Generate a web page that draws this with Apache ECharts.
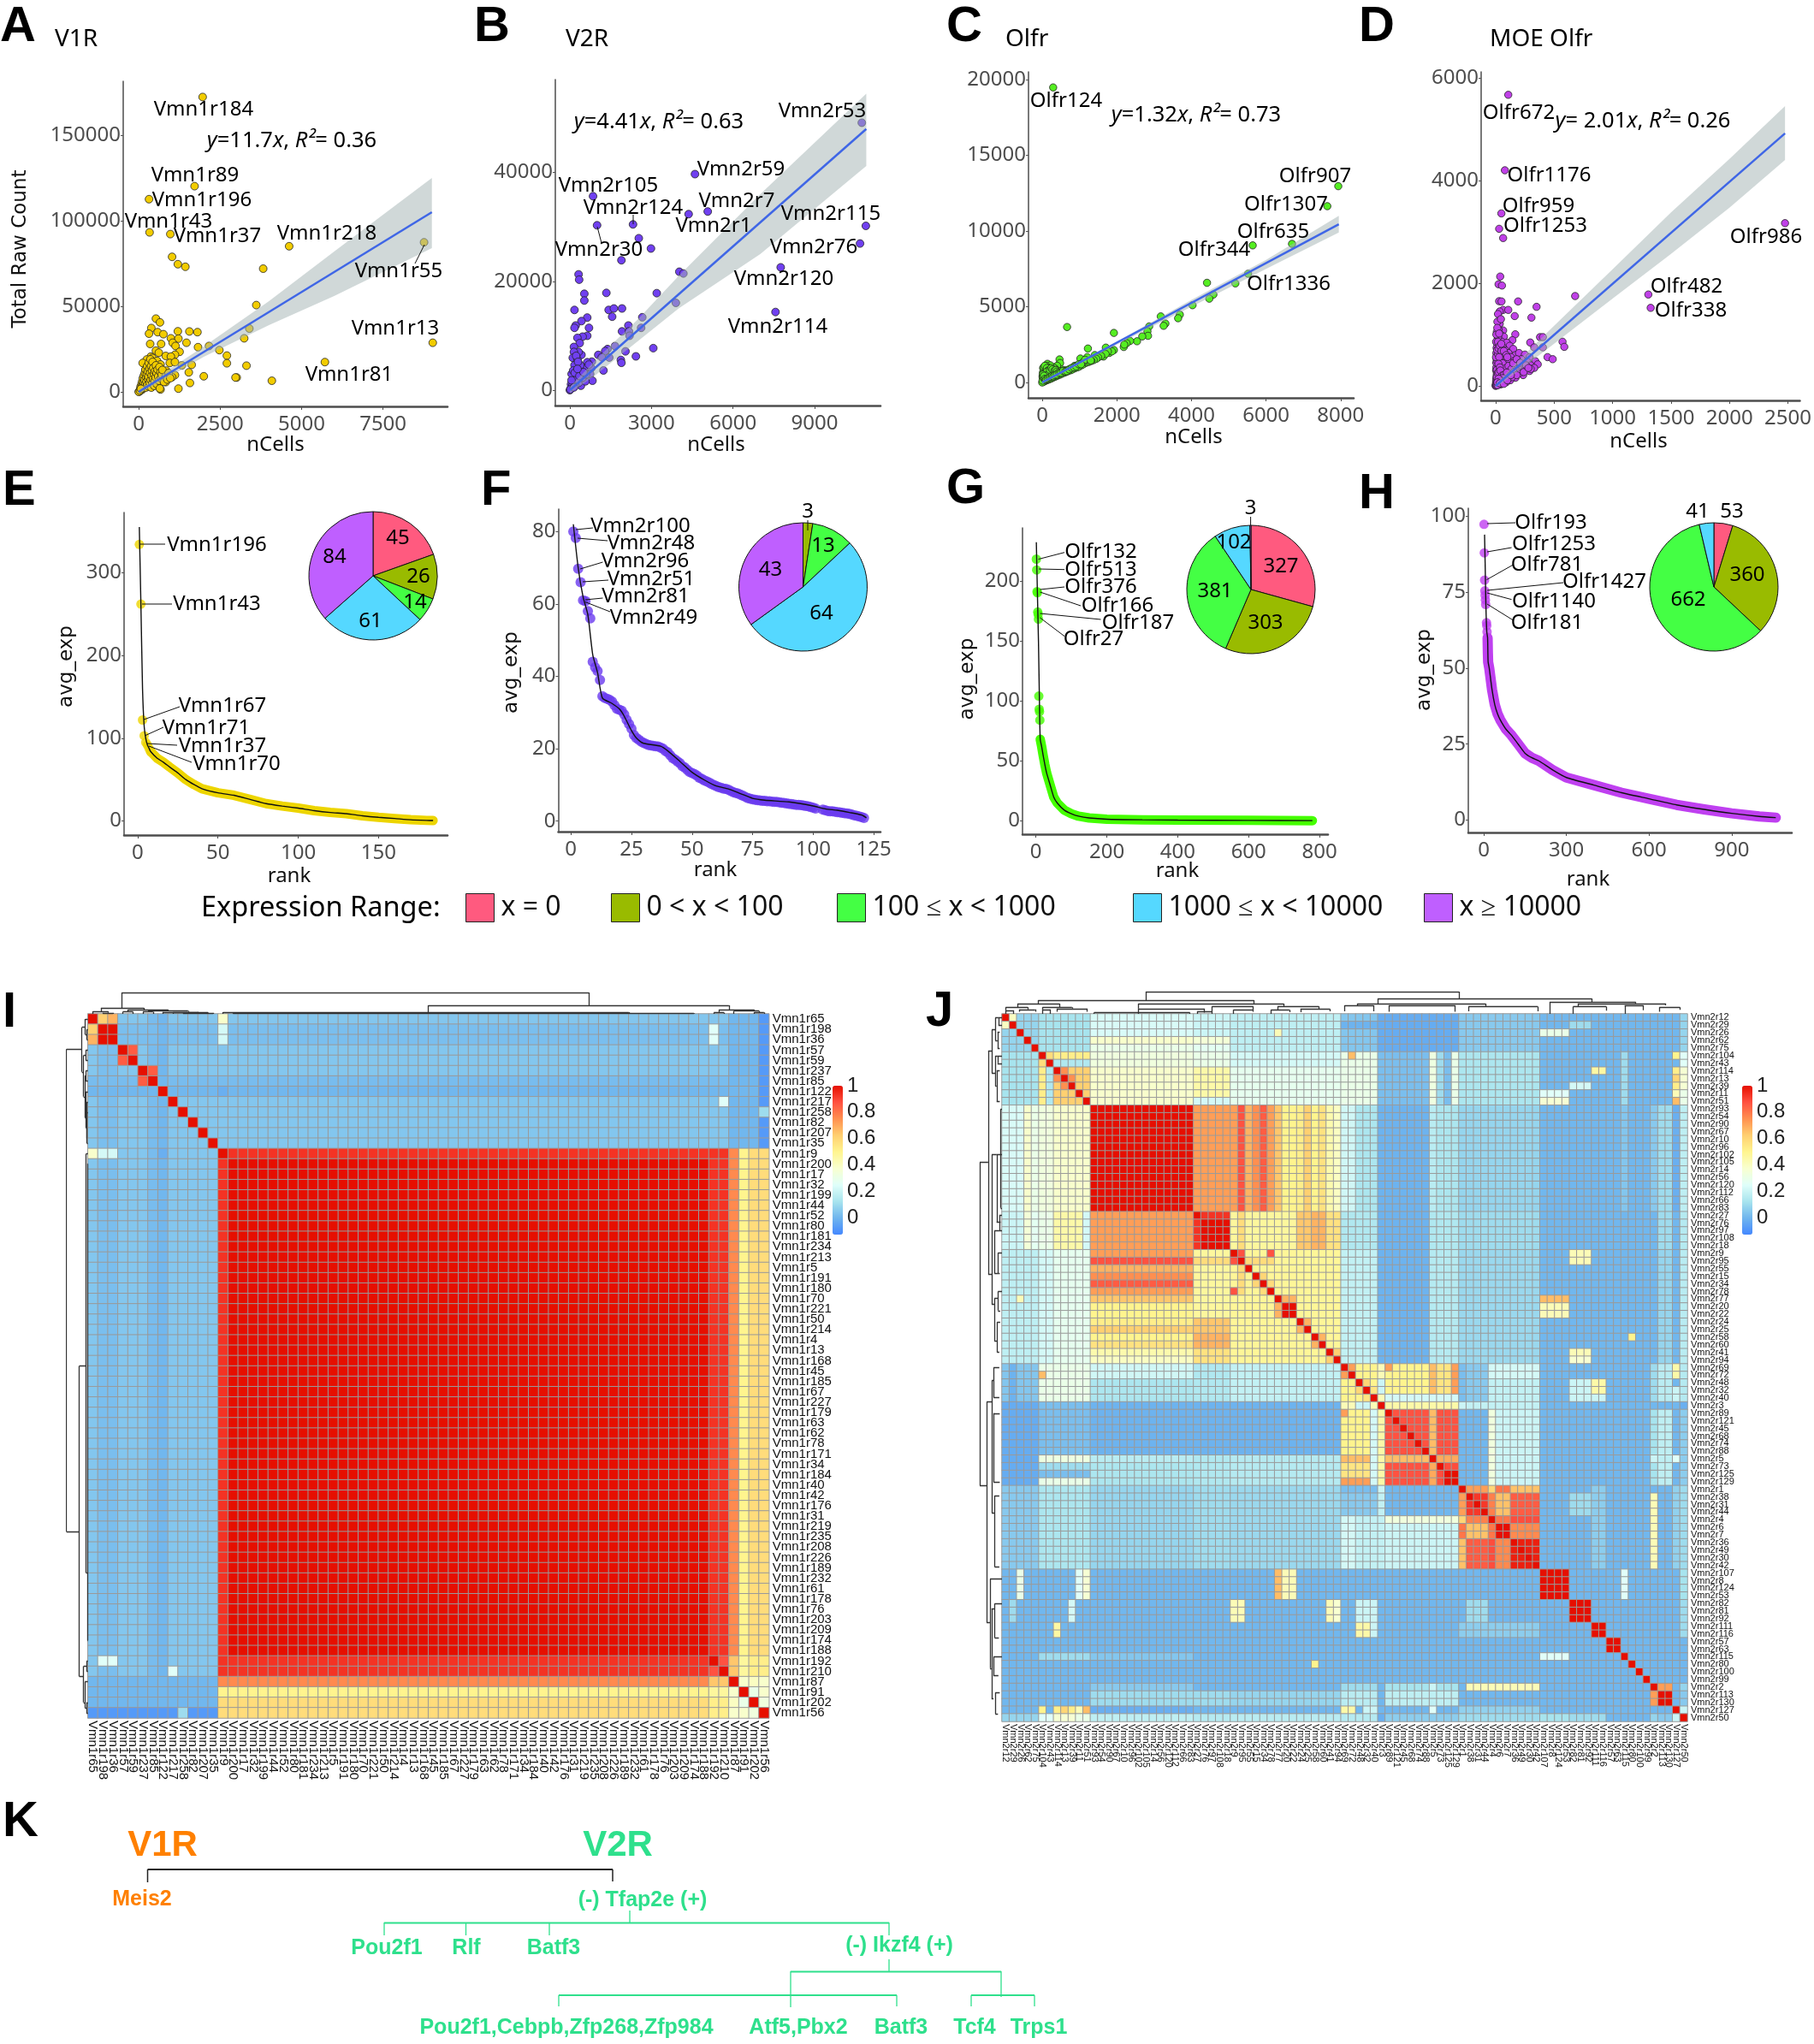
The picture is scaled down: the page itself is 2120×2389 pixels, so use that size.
<!DOCTYPE html>
<html><head><meta charset="utf-8"><style>html,body{margin:0;background:#fff}#c{width:2120px;height:2389px}</style>
<script src="https://cdn.jsdelivr.net/npm/echarts@6/dist/echarts.min.js"></script></head><body><div id="c"></div>
<script>
// ---------- DATA ----------
const pointsA=[[1965,172300],[1717,120200],[319,112600],[336,93200],[973,92200],[1027,78900],[1204,74600],[1434,73100],[3823,72000],[4620,85100],[8760,87400],[3611,50700],[3398,37000],[3239,31300],[9027,28700],[5717,17400],[4089,6500],[2478,24400],[2160,26800],[2708,21200],[2708,16700],[3310,15300],[3010,8400],[2974,8400],[2000,9100],[1575,5200],[1221,1900],[672,1400],[531,42800],[655,40600],[390,37300],[319,34000],[584,34900],[761,33700],[1204,35400],[1558,35300],[1805,34900],[991,31300],[1221,31100],[1044,28700],[1469,28700],[690,28000],[354,28000],[1133,26800],[1823,26100],[531,24100],[1257,23400],[620,22900],[1115,21700],[832,21000],[991,20600],[372,20600],[248,18900],[425,19800],[124,16900],[566,18100],[673,16000],[956,16900],[1115,17400],[1327,15500],[1628,15800],[1540,11400],[407,15000],[212,12900],[442,12900],[850,12400],[1115,9800],[1027,8600],[602,10700],[832,5700],[30,500],[50,1500],[60,3000],[80,2200],[90,4500],[100,1200],[110,6000],[120,3500],[130,8000],[140,2000],[150,5500],[160,9500],[170,3000],[180,7000],[190,11000],[200,4500],[210,13000],[220,2500],[230,8500],[240,6000],[250,10500],[260,15000],[270,4000],[280,12000],[290,7500],[300,9000],[310,17000],[320,3000],[330,13500],[340,5500],[350,11000],[360,19000],[370,7000],[380,15000],[390,2500],[400,9500],[410,12500],[420,5000],[430,17500],[440,7500],[450,14000],[470,10500],[480,3500],[490,6500],[500,12000],[520,8500],[530,15500],[550,11000],[560,4500],[580,13000],[600,9000],[620,6500],[640,14500],[650,2000],[670,11500],[690,8000],[710,10000],[730,12800],[780,5800],[830,9000],[880,7200],[920,11000],[970,8000],[20,300],[10,100],[5,50],[40,800],[70,1800]];
const pointsB=[[10735,49140],[4600,39700],[852,35640],[4367,32350],[5070,32830],[10884,30190],[1000,30300],[2322,30460],[10670,26950],[2535,27920],[2982,26030],[1896,23870],[7753,22570],[4026,21760],[4175,21440],[320,21280],[341,20300],[1342,17870],[3195,17820],[532,17710],[532,16470],[3898,16040],[7562,14360],[1917,15010],[1427,14740],[1619,15010],[170,14740],[1555,13500],[639,13340],[426,12690],[2663,13390],[213,11880],[170,11450],[703,11450],[2151,11880],[2620,11450],[1917,10800],[2173,10800],[2194,9990],[639,9990],[469,9830],[277,9610],[362,8640],[149,7940],[3067,7720],[1661,8100],[1385,7560],[1299,7180],[2045,7130],[1044,6480],[1172,6050],[1448,5990],[2428,6210],[1874,5560],[1896,5020],[1235,3620],[809,5240],[639,5130],[426,6480],[320,7020],[149,7020],[107,5940],[277,5670],[575,4050],[788,4050],[746,2970],[831,1730],[405,810],[107,1890],[213,2430],[383,3510],[64,2970],[43,1080],[0,0],[149,1350],[320,1350],[575,1620],[170,4590],[383,4590],[40,400],[90,800],[200,900],[250,2000],[470,2300],[600,2900],[230,6300],[300,5200],[700,4700],[120,3600],[60,1800],[180,3200],[350,2600],[500,3300],[20,150],[150,500],[280,3900]];
const pointsC=[[294,19480],[7936,12960],[7642,11640],[5642,9050],[6696,9150],[5518,7180],[4418,6580],[5177,6540],[4588,5800],[4480,5530],[4030,5100],[3178,4360],[3689,4480],[3643,4240],[3302,3890],[3255,3740],[667,3660],[1922,3270],[2868,3700],[2821,3370],[2837,3080],[2682,3040],[2542,2720],[2356,2740],[2263,2590],[2186,2340],[1225,2240],[1705,2300],[1922,2140],[1798,1950],[1643,1710],[1410,1810],[1209,1670],[1023,1580],[465,1520],[480,1280],[140,1230],[60,1030],[190,1050],[2200,2500],[1870,2050],[1760,2050],[1700,1880],[1580,1750],[1500,1650],[1450,1560],[1380,1480],[1320,1420],[1250,1350],[1180,1300],[1120,1230],[1070,1150],[1000,1060],[950,1000],[880,940],[820,870],[770,810],[700,750],[640,690],[590,640],[530,580],[480,520],[430,470],[380,420],[340,370],[290,320],[250,270],[210,230],[170,190],[130,150],[90,110],[50,60],[20,30],[0,0],[1080,1300],[1150,1500],[870,1100],[520,850],[600,800],[680,820],[450,800],[400,1100],[350,900],[300,1000],[260,800],[220,1130],[180,900],[150,1000],[120,820],[100,1100],[80,900],[60,700],[40,850],[30,500],[20,650],[15,300],[70,420],[110,560],[150,620],[200,580],[240,660],[280,700],[320,600],[90,300],[130,380],[170,420],[40,200],[10,120],[55,250],[230,480],[310,500],[370,640],[420,620],[480,750],[540,700],[750,900],[930,1120],[1300,1450],[25,950],[45,1000],[70,1100],[95,780],[125,950],[160,800],[195,720],[35,600],[65,540],[85,620],[115,700],[140,480],[180,540],[205,840],[245,950],[275,860],[330,780],[365,820],[395,720],[440,660],[10,400],[18,520],[28,380],[48,440],[75,250],[105,200],[145,260],[185,330],[225,370],[265,430],[300,410],[345,480],[395,520],[460,610],[500,640],[560,760],[620,720],[660,750],[725,860],[790,960],[850,1000],[910,1060],[980,1200],[1040,1200]];
const pointsD=[[108,5670],[79,4200],[49,3360],[30,3060],[64,2880],[2475,3170],[1306,1780],[1326,1520],[680,1750],[39,2130],[25,1980],[54,1955],[30,1650],[50,1645],[192,1645],[350,1540],[64,1480],[108,1480],[35,1450],[163,1360],[306,1330],[35,1210],[64,1080],[168,1005],[380,950],[404,950],[143,890],[296,845],[572,860],[587,760],[330,750],[404,750],[444,560],[488,520],[20,1400],[15,1250],[45,1300],[25,1100],[10,1050],[42,1000],[70,960],[18,930],[33,880],[52,860],[12,820],[28,780],[95,840],[120,780],[8,740],[40,720],[65,740],[22,680],[85,690],[150,720],[6,640],[35,620],[55,620],[110,640],[170,600],[200,640],[15,580],[45,540],[75,580],[130,560],[250,610],[8,520],[28,490],[60,500],[95,500],[160,490],[220,520],[290,560],[12,440],[40,430],[75,440],[115,450],[185,420],[270,470],[340,480],[20,390],[50,370],[90,380],[140,380],[210,370],[300,400],[360,420],[6,360],[32,320],[65,320],[105,320],[165,330],[250,320],[330,350],[15,280],[45,270],[80,270],[125,270],[190,280],[290,290],[10,230],[30,220],[60,220],[100,220],[150,220],[235,210],[300,330],[8,180],[22,170],[45,170],[75,170],[115,170],[170,160],[5,130],[15,120],[32,120],[55,120],[85,120],[125,110],[4,80],[12,80],[22,75],[38,80],[60,75],[90,70],[3,40],[8,40],[15,35],[28,35],[45,30],[0,0],[2,15],[5,10],[10,15],[18,12],[30,60],[50,50],[4,300],[10,310],[5,450],[16,470],[3,560],[20,620],[12,700],[25,730],[4,860],[22,960],[6,1000],[14,1130],[30,1020],[20,860],[35,780],[50,680],[70,680],[90,600],[100,560],[48,820],[30,560],[60,440],[80,340],[110,390],[135,330],[155,270],[200,240],[240,270],[24,430],[36,360],[10,170],[18,250],[26,270],[40,300],[55,200],[70,210],[95,260],[105,150],[140,170],[180,210],[60,150],[80,100],[40,110],[25,140],[15,70],[35,50],[70,40],[100,110],[130,210],[150,440],[180,520],[210,450],[260,400],[280,350]];
const fitA=[[0,0],[9000,105000]], bandA=[[0,-1200,1200],[1000,9500,14000],[2000,20500,26500],[4000,39000,53000],[6000,56000,82000],[9000,84000,125000]];
const fitB=[[0,0],[10900,48000]], bandB=[[0,-600,600],[1000,3000,5800],[2500,9000,13000],[4000,15000,21000],[7000,25000,36000],[10900,41200,54500]];
const fitC=[[0,0],[7950,10450]], bandC=[[0,-100,100],[2000,2500,2700],[4000,5000,5450],[6000,7500,8100],[7950,9900,11000]];
const fitD=[[0,0],[2475,4920]], bandD=[[0,-40,40],[300,470,730],[500,820,1170],[1000,1700,2270],[1500,2570,3380],[2000,3470,4420],[2475,4400,5450]];

const dotsE=[[1,334],[2,262],[3,122],[4,103],[5,95],[6,92],[7,88],[8,84]];
const bandE=[[8,84],[12,76],[16,71],[20,65],[25,58],[30,50],[35,44],[40,39],[50,34],[60,31],[70,26],[80,21],[90,18],[100,15.5],[110,12.5],[120,10.3],[130,8.9],[140,6.3],[150,4.4],[160,3],[170,1.5],[180,0.7],[184,0.5]];
const fitHeadE=[[1,355],[2,260],[3,160],[4,115],[5,100],[6,92],[7,88]];
const ranksF=[80,78.2,69.7,66,61,60.8,58,56,44,42.5,41.5,39,34.5,34,33.8,33.5,33,32,31,30.8,30.5,29.5,28,26.8,25.5,23.8,23,22.5,22,21.6,21.3,21,20.9,20.8,20.7,20.6,20.3,20,19.4,19,18.2,17.4,17,16.5,16,15.2,14.8,14.2,13.6,13.3,13,12.6,12,11.7,11.3,11,10.7,10.3,10,9.7,9.4,9.2,9,8.9,8.7,8.3,8,7.8,7.6,7.3,7,6.7,6.4,6.2,6,5.9,5.8,5.7,5.6,5.6,5.5,5.5,5.4,5.3,5.3,5.2,5.1,5,4.9,4.8,4.7,4.6,4.5,4.5,4.4,4.3,4.2,4.1,3.9,3.7,3.5,3.2,3,2.8,2.7,2.7,2.6,2.5,2.4,2.3,2.2,2.1,2,1.8,1.6,1.5,1.3,1.1,0.9];
const dotsF=ranksF.map((v,i)=>[i+1+(i>100?2:0),v]);
const fitF=[[1,82],[3,70],[5,62],[7,57],[9,46],[11,41],[13,34],[17,32.5],[20,31],[22,29],[25,25],[27,23],[30,21.5],[37,20.7],[40,19.4],[45,16.5],[50,13.5],[55,11.4],[60,9.7],[65,8.9],[70,7.6],[75,6.3],[80,5.8],[90,5.3],[100,4.2],[105,3.4],[110,3],[115,2.4],[120,1.7],[122,0.9]];
const dotsG=[[1,218],[2,209],[3,191],[4,190],[5,174],[6,172],[7,168],[8,104],[9,93],[10,91],[11,84]];
const bandG=[[12,68],[16,62],[20,55],[25,47],[30,40],[40,30],[50,20],[60,15],[80,9],[100,6],[120,4],[150,2.5],[200,1.5],[300,1],[400,0.7],[600,0.5],[780,0.3]];
const fitHeadG=[[1,232],[4,190],[7,150],[10,95]];
const dotsH=[[1,97.4],[2,88],[3,79],[4,75.5],[5,74],[6,72.5],[7,71],[10,65],[11,64],[12,62]];
const bandH=[[14,60],[15,55],[16,52],[20,50],[30,43],[40,38],[50,35],[60,33],[80,30],[100,28],[125,25],[150,22],[175,20.5],[200,19.5],[250,16.5],[300,14],[400,11.5],[500,9],[600,7],[700,5],[800,3.5],[900,2.2],[1000,1.2],[1060,0.8]];
const fitHeadH=[[3,94],[5,85],[8,70],[11,62]];

const rangeNames=['x = 0','0 < x < 100','100 ≤ x < 1000','1000 ≤ x < 10000','x ≥ 10000'];
const pieE=[45,26,14,61,84], pieF=[0,3,13,64,43], pieG=[327,303,381,102,3], pieH=[53,360,662,41,0];

const labelsI=[65,198,36,57,59,237,85,122,217,258,82,207,35,9,200,17,32,199,44,52,80,181,234,213,5,191,180,70,221,50,214,4,13,168,45,185,67,227,179,63,62,78,171,34,184,40,42,176,31,219,235,208,226,189,232,61,178,76,203,209,174,188,192,210,87,91,202,56].map(n=>'Vmn1r'+n);
const labelsJ=[12,29,26,62,75,104,43,114,13,39,11,51,93,54,90,67,10,96,102,105,14,56,120,112,66,83,27,76,97,108,18,9,95,55,15,34,78,77,20,22,24,25,58,60,41,94,69,72,48,32,40,3,89,121,45,68,74,88,5,73,125,129,1,38,31,44,4,6,7,36,49,30,42,107,8,124,53,82,81,92,111,116,57,63,115,80,100,99,2,113,130,127,50].map(n=>'Vmn2r'+n);
// blocks: [rowFrom,rowTo,colFrom,colTo,value], mirrored across the diagonal, later ones win
const blocksI=[[0,67,0,67,0.04],[0,67,1,2,0.02],[0,67,6,7,0.015],[7,7,0,67,0.0],[0,12,64,66,0.0],[0,12,67,67,-0.08],[9,9,67,67,0.1],[0,0,1,1,0.62],[0,0,2,2,0.68],[1,2,1,2,1],[3,4,3,4,0.85],[5,6,5,6,0.85],[13,13,0,0,0.38],[13,13,1,2,0.22],[13,13,7,7,-0.02],[13,61,13,61,1],[13,13,14,63,0.93],[14,61,62,63,0.93],[62,63,62,63,0.87],[13,61,64,64,0.76],[62,63,64,64,0.64],[13,61,65,65,0.5],[62,63,65,65,0.47],[13,61,66,67,0.58],[62,63,66,67,0.52],[64,64,65,65,0.38],[64,64,66,66,0.4],[64,64,67,67,0.38],[65,65,66,66,0.3],[65,65,67,67,0.38],[66,66,67,67,0.33],[1,2,62,62,0.25],[8,8,63,63,0.25]];
const blocksJ=[[0,92,0,92,0.0],[0,4,0,4,0.08],[0,0,1,1,0.4],[5,11,0,4,0.12],[5,6,5,6,0.13],[5,5,6,6,0.58],[5,5,7,11,0.52],[6,11,6,6,0.14],[7,11,7,11,0.62],[7,7,8,8,0.75],[8,8,9,9,0.75],[0,2,12,25,0.23],[3,3,12,25,0.38],[4,4,12,25,0.3],[5,6,12,25,0.33],[7,11,12,25,0.38],[0,2,26,30,0.2],[3,3,26,30,0.35],[4,4,26,30,0.27],[5,6,26,30,0.3],[7,10,26,30,0.45],[11,11,26,30,0.22],[0,4,31,45,0.17],[2,2,37,37,0.42],[5,6,31,45,0.22],[7,11,31,45,0.28],[0,4,46,50,0.04],[1,1,46,50,-0.01],[5,11,46,50,0.3],[5,5,47,47,0.66],[0,4,51,61,-0.03],[5,11,51,61,0.02],[5,11,58,58,0.32],[5,11,59,59,0.1],[5,11,61,61,0.3],[5,11,62,72,0.13],[0,4,62,72,0.05],[2,2,73,76,0.3],[10,10,73,76,0.25],[11,11,73,76,0.36],[1,1,77,79,0.1],[9,9,77,79,0.22],[7,7,80,81,0.46],[5,11,84,84,0.1],[5,5,91,91,0.5],[7,9,91,91,0.52],[8,8,91,91,0.6],[10,10,91,91,0.42],[11,11,91,91,0.66],[0,4,92,92,0.08],[5,6,92,92,0.25],[7,9,92,92,0.36],[10,11,92,92,0.3],[12,25,12,25,1],[12,25,26,30,0.72],[12,25,31,31,0.72],[12,25,32,32,0.87],[12,25,33,33,0.68],[12,25,34,34,0.75],[12,25,35,35,0.85],[12,25,36,36,0.72],[12,25,37,37,0.64],[12,25,38,39,0.5],[12,25,40,40,0.52],[12,25,41,41,0.62],[12,25,42,42,0.5],[12,25,43,43,0.56],[12,25,44,44,0.44],[12,25,45,45,0.4],[12,25,46,47,0.21],[12,25,48,50,0.13],[12,25,51,57,-0.01],[12,25,58,58,0.16],[12,25,59,61,0.13],[12,25,62,72,0.08],[12,25,84,84,0.04],[12,25,88,88,0.05],[12,25,89,90,0.1],[12,25,91,91,-0.02],[12,25,92,92,0.17],[26,30,26,30,1],[26,26,27,30,0.93],[26,30,31,45,0.47],[26,30,32,32,0.58],[26,30,40,41,0.64],[26,30,42,43,0.68],[26,30,44,45,0.56],[26,30,46,50,0.14],[26,30,51,57,-0.01],[26,30,58,61,0.14],[26,30,62,72,0.1],[26,30,89,90,0.1],[26,30,92,92,0.15],[31,45,31,45,0.48],[31,31,32,32,0.87],[31,31,36,36,0.87],[32,32,33,36,0.58],[34,34,35,35,0.6],[35,35,36,36,0.58],[37,37,38,39,0.68],[38,39,38,39,1],[40,41,40,41,0.68],[42,43,42,43,0.68],[44,45,44,45,0.62],[31,45,46,50,0.18],[31,45,51,57,-0.01],[31,45,58,61,0.15],[31,45,62,72,0.09],[31,32,77,79,0.42],[44,44,77,79,0.42],[45,45,77,79,0.37],[37,37,73,76,0.66],[38,39,73,76,0.42],[42,42,85,85,0.5],[31,45,89,90,0.08],[31,45,92,92,0.16],[46,50,46,50,0.5],[46,46,47,47,0.72],[48,48,49,49,0.6],[49,49,50,50,0.55],[46,50,51,51,0.42],[48,49,51,51,0.2],[46,50,52,57,0.5],[46,46,52,52,0.72],[46,49,58,58,0.66],[46,49,59,60,0.55],[46,49,61,61,0.72],[50,50,52,61,0.22],[46,50,62,62,0.02],[46,50,63,65,0.05],[46,47,66,72,0.22],[48,50,66,72,0.18],[46,47,91,91,0.45],[49,50,91,91,0.2],[48,49,80,81,0.45],[50,50,80,81,0.2],[48,50,77,79,0.2],[46,50,92,92,0.15],[46,50,88,88,0.1],[46,50,89,90,0.16],[51,51,52,61,0.45],[51,51,62,62,0.2],[51,51,63,72,0.18],[51,51,92,92,-0.02],[52,57,52,57,0.87],[52,57,58,58,0.66],[52,57,59,61,0.87],[58,58,59,61,0.7],[59,61,59,61,0.88],[60,61,60,61,1],[52,61,66,66,0.33],[52,61,67,72,0.2],[52,61,88,88,0.12],[52,61,89,90,0.17],[58,58,88,88,0.2],[58,58,91,91,0.25],[58,58,92,92,0.42],[52,61,92,92,0.06],[62,62,63,65,0.72],[62,62,66,66,0.6],[62,62,67,68,0.8],[62,62,69,72,0.65],[63,65,63,65,0.92],[63,65,66,66,0.78],[63,65,67,68,0.65],[63,65,69,72,0.85],[66,66,67,68,0.8],[66,66,69,72,0.88],[67,68,67,68,1],[67,68,69,72,0.76],[69,72,69,72,0.97],[63,72,88,88,0.42],[63,65,77,79,0.1],[62,72,80,81,0.06],[62,72,91,91,0.07],[62,72,92,92,0.1],[73,76,73,76,1],[73,76,84,84,0.25],[73,76,92,92,0.12],[77,79,77,79,1],[77,79,92,92,0.1],[80,81,80,81,1],[80,81,92,92,0.1],[82,83,82,83,1],[88,88,89,90,0.72],[89,90,89,90,1],[88,88,92,92,0.08],[89,90,92,92,0.05],[91,91,92,92,0.2]];
const dendroI=[[3.4,50,1,0.28,0.4],[1.3,5.6,0.28,0.12,0.2],[0.5,2,0.12,0,0.05],[1.5,2.5,0.05,0,0],[4,8,0.2,0.1,0.14],[3.5,4.5,0.1,0,0],[6,10,0.14,0.1,0.09],[5.5,6.5,0.1,0,0],[7.5,11,0.09,0,0.07],[8.5,12,0.07,0,0.05],[9.5,12.5,0.05,0,0],[34,64,0.4,0.08,0.2],[13.5,54,0.08,0,0.03],[14.5,60.5,0.03,0,0],[63,66.5,0.2,0.06,0.14],[62.5,63.5,0.06,0,0],[64.5,67,0.14,0,0.07],[66.5,67.5,0.07,0,0]];
const dendroJ=[[19.5,62,1,0.62,0.69],[4.9,34.2,0.62,0.46,0.46],[2.1,7.8,0.46,0.3,0.3],[0.5,3.5,0.3,0.16,0.2],[0.5,1.5,0.16,0,0],[2.4,4.5,0.2,0.1,0.1],[5.5,9.5,0.3,0.2,0.24],[5.5,6.5,0.2,0,0],[7.5,11.5,0.24,0.1,0.1],[18.5,38.2,0.46,0.24,0.34],[18.5,27.4,0.24,0,0.06],[12.5,25.5,0.06,0,0],[28.5,34.1,0.34,0.12,0.18],[26.5,28.5,0.12,0,0],[31.4,34.1,0.18,0,0.1],[37.4,43,0.34,0.18,0.22],[36.5,39,0.18,0,0.08],[40.5,44.5,0.22,0.08,0.12],[51,80,0.69,0.46,0.54],[48.2,65.6,0.46,0.38,0.33],[46.5,50.4,0.38,0.12,0.12],[52.5,61.5,0.38,0.1,0.1],[63.3,72.7,0.33,0.12,0.12],[74.3,86,0.54,0,0.47],[78.2,90,0.47,0.33,0.38],[77.5,82,0.33,0,0.14],[84.5,87,0.38,0,0.16],[89.2,92,0.3,0.1,0.18]];
const legendValues=[0,0.2,0.4,0.6,0.8,1];

// ---------- PIXEL LAYOUT AND STYLE ----------
const colors=['#FF5A7F','#99BB00','#44FF44','#55D8FF','#BF5FFF'];
const heatColors=['#4488FF','#6FB5EE','#A8E4EE','#E0FFFA','#F8FFD0','#FFF58F','#FFCF70','#FF9050','#FF5040','#E60F00'];
const sans='"Noto Sans"', ar='"Liberation Sans"', wide='"DejaVu Sans"';
const tick='#4D4D4D';
const grid=[],xAxis=[],yAxis=[],series=[],graphic=[],legend=[],visualMap=[];
const plain=v=>String(v);

function addPanel(p){
  const i=grid.length;
  grid.push({left:p.l,top:p.t,width:p.r-p.l,height:p.b-p.t});
  xAxis.push({gridIndex:i,type:'value',min:p.xr[0],max:p.xr[1],splitLine:{show:false},
    axisLine:{show:true,onZero:false,lineStyle:{color:tick,width:2.5}},axisTick:{show:true,length:4,lineStyle:{color:tick},customValues:p.xt},axisLabel:{customValues:p.xt,formatter:plain,fontFamily:sans,fontSize:24,color:tick,margin:9,hideOverlap:false,showMinLabel:true,showMaxLabel:true}});
  yAxis.push({gridIndex:i,type:'value',min:p.yr[0],max:p.yr[1],splitLine:{show:false},
    axisLine:{show:true,onZero:false,lineStyle:{color:tick,width:1.5}},axisTick:{show:true,length:3,lineStyle:{color:tick},customValues:p.yt},axisLabel:{customValues:p.yt,formatter:plain,fontFamily:sans,fontSize:24,color:tick,margin:3}});
  return i;
}
function bandSeries(i,band){
  return {type:'custom',xAxisIndex:i,yAxisIndex:i,data:band,z:4,silent:true,clip:true,renderItem:(pr,api)=>{
    if(pr.dataIndex!==0) return null;
    const up=band.map(b=>api.coord([b[0],b[2]])), lo=band.map(b=>api.coord([b[0],b[1]])).reverse();
    return {type:'polygon',shape:{points:up.concat(lo)},style:{fill:'rgba(165,180,180,0.52)'}};
  }};
}
function addScatter(p,pts,col,fit,band){
  const i=addPanel(p);
  series.push({type:'scatter',xAxisIndex:i,yAxisIndex:i,data:pts,symbolSize:p.sz||9,z:3,itemStyle:{color:col,borderColor:'#222',borderWidth:0.8,opacity:1}});
  series.push(bandSeries(i,band));
  series.push({type:'line',xAxisIndex:i,yAxisIndex:i,data:fit,symbol:'none',z:5,lineStyle:{color:'#3F66E6',width:2.5}});
}
function addRank(p,dots,bandPts,fit,col,bw,ds){
  const i=addPanel(p);
  if(bandPts) series.push({type:'line',xAxisIndex:i,yAxisIndex:i,data:bandPts,symbol:'none',z:2,lineStyle:{color:col,width:bw,cap:'round',join:'round'}});
  series.push({type:'scatter',xAxisIndex:i,yAxisIndex:i,data:dots,symbolSize:ds,z:3,itemStyle:{color:col}});
  series.push({type:'line',xAxisIndex:i,yAxisIndex:i,data:fit,symbol:'none',z:5,smooth:0.2,lineStyle:{color:'#111',width:1.4}});
}
addScatter({l:144,r:523,t:95,b:475,xr:[-473,9480],yr:[-8500,181500],xt:[0,2500,5000,7500],yt:[0,50000,100000,150000]},pointsA,'#F2CC00',fitA,bandA);
addScatter({l:649,r:1029,t:93,b:474,xr:[-535,11422],yr:[-2830,57075],xt:[0,3000,6000,9000],yt:[0,20000,40000]},pointsB,'#7040F0',fitB,bandB);
addScatter({l:1202,r:1582,t:84,b:465,xr:[-367,8348],yr:[-1017,20508],xt:[0,2000,4000,6000,8000],yt:[0,5000,10000,15000,20000],sz:8.5},pointsC,'#55EE22',fitC,bandC);
addScatter({l:1731,r:2105,t:84,b:468,xr:[-124,2602],yr:[-283,6117],xt:[0,500,1000,1500,2000,2500],yt:[0,2000,4000,6000],sz:8.5},pointsD,'#C040E8',fitD,bandD);

addRank({l:145,r:523,t:599,b:976,xr:[-8.5,193],yr:[-17,372.6],xt:[0,50,100,150],yt:[0,100,200,300]},dotsE,bandE,fitHeadE.concat(bandE),'#EDD500',11,11);
addRank({l:652.5,r:1029,t:595,b:972,xr:[-5.2,127.8],yr:[-2.9,86.2],xt:[0,25,50,75,100,125],yt:[0,20,40,60,80]},dotsF,null,fitF,'#6A3BEF',0,12);
addRank({l:1195,r:1552,t:617,b:975,xr:[-38,824],yr:[-11,244],xt:[0,200,400,600,800],yt:[0,50,100,150,200]},dotsG,bandG,fitHeadG.concat(bandG),'#44FF00',11,11);
addRank({l:1716,r:2094,t:594,b:973,xr:[-56,1118],yr:[-4.1,102.7],xt:[0,300,600,900],yt:[0,25,50,75,100]},dotsH,bandH,fitHeadH.concat(bandH),'#BF40F0',12,11);

function addPie(vals,cx,cy,pos){
  const data=[];
  vals.forEach((v,k)=>{ if(v) data.push({name:rangeNames[k],value:v,itemStyle:{color:colors[k]}}); });
  series.push({type:'pie',center:[cx,cy],radius:[0,75],startAngle:90,clockwise:true,data,silent:true,z:6,
    itemStyle:{borderColor:'#111',borderWidth:1},
    label:{show:true,position:'inside',formatter:'{c}',fontFamily:sans,fontSize:24,color:'#000'},
    labelLine:{show:false},
    labelLayout:pr=>({x:pos[pr.dataIndex][0],y:pos[pr.dataIndex][1],align:'center',verticalAlign:'middle',hideOverlap:false})});
}
addPie(pieE,436,673,[[465,629],[489,674],[485,704],[433,726],[391,651]]);
addPie(pieF,938.5,686,[[944,598],[962,638],[960,717],[900.6,666]]);
addPie(pieG,1462,689,[[1497,662],[1479,728],[1420,691],[1442,634],[1461.6,594.6]]);
addPie(pieH,2003,686,[[2024,598],[2042,672],[1973,701],[1984,598]]);
[544,714,978,1324,1664].forEach((l,k)=>legend.push({left:l,top:1044,padding:0,itemWidth:33,itemHeight:33,icon:'rect',selectedMode:false,data:[rangeNames[k]],itemGap:0,itemStyle:{borderColor:'#222',borderWidth:1},textStyle:{fontFamily:sans,fontSize:32,color:'#111',padding:[5,0,0,3]}}));

function buildMatrix(blocks,n){
  const m=Array.from({length:n},()=>new Array(n).fill(0));
  blocks.forEach(([r0,r1,c0,c1,v])=>{for(let r=r0;r<=r1;r++)for(let c=c0;c<=c1;c++){m[r][c]=v;m[c][r]=v;}});
  const out=[];
  for(let r=0;r<n;r++)for(let c=0;c<n;c++)out.push([c,r,r===c?1:m[r][c]]);
  return out;
}
function addHeat(labels,blocks,L,T,W,H,fs,sw){
  const i=grid.length;
  grid.push({left:L,top:T,width:W,height:H});
  xAxis.push({gridIndex:i,type:'category',data:labels,position:'bottom',axisLine:{show:false},axisTick:{show:false},splitLine:{show:false},axisLabel:{interval:0,rotate:-90,fontFamily:ar,fontSize:fs,color:'#111',margin:3,hideOverlap:false}});
  yAxis.push({gridIndex:i,type:'category',data:labels,inverse:true,position:'right',axisLine:{show:false},axisTick:{show:false},splitLine:{show:false},axisLabel:{interval:0,fontFamily:ar,fontSize:fs,color:'#111',margin:4,hideOverlap:false}});
  const si=series.length;
  series.push({type:'heatmap',xAxisIndex:i,yAxisIndex:i,data:buildMatrix(blocks,labels.length),progressive:0,silent:true,itemStyle:{borderColor:'#9A9A9A',borderWidth:1},emphasis:{disabled:true}});
  visualMap.push({type:'continuous',seriesIndex:si,min:-0.13,max:1,dimension:2,inRange:{color:heatColors},show:true,calculable:false,left:sw,top:1269,itemWidth:12,itemHeight:174,padding:0,text:null,hoverLink:false});
  const g=grid.length;
  grid.push({left:sw,top:1269,width:12,height:174});
  xAxis.push({gridIndex:g,type:'value',min:0,max:1,show:false});
  yAxis.push({gridIndex:g,type:'value',min:-0.13,max:1,position:'right',splitLine:{show:false},axisLine:{show:false},axisTick:{show:false},axisLabel:{customValues:legendValues,fontFamily:ar,fontSize:24,color:'#222',margin:5,formatter:plain}});
  series.push({type:'scatter',xAxisIndex:g,yAxisIndex:g,data:[],silent:true});
}
function addDendro(merges,n,L,T,W,H,depth){
  const segs=[];
  merges.forEach(([a,b,h,ha,hb])=>{segs.push([[a,h],[b,h]],[[a,h],[a,ha]],[[b,h],[b,hb]]);});
  const lineStyle={color:'#333',width:1.3,opacity:1};
  let g=grid.length;
  grid.push({left:L,top:T-depth,width:W,height:depth});
  xAxis.push({gridIndex:g,type:'value',min:0,max:n,show:false});
  yAxis.push({gridIndex:g,type:'value',min:0,max:1,show:false});
  series.push({type:'lines',coordinateSystem:'cartesian2d',xAxisIndex:g,yAxisIndex:g,polyline:false,silent:true,lineStyle,data:segs.map(s=>({coords:s}))});
  g=grid.length;
  grid.push({left:L-depth,top:T,width:depth,height:H});
  xAxis.push({gridIndex:g,type:'value',min:0,max:1,inverse:true,show:false});
  yAxis.push({gridIndex:g,type:'value',min:0,max:n,inverse:true,show:false});
  series.push({type:'lines',coordinateSystem:'cartesian2d',xAxisIndex:g,yAxisIndex:g,polyline:false,silent:true,lineStyle,data:segs.map(s=>({coords:s.map(q=>[q[1],q[0]])}))});
}
addHeat(labelsI,blocksI,102.7,1185,796,823,15,973);
addHeat(labelsJ,blocksJ,1171,1185,801,827,11,2036);
addDendro(dendroI,68,102.7,1185,796,823,25);
addDendro(dendroJ,93,1171,1185,801,827,26);

// ---------- TEXT AND LEADERS ----------
function T(text,x,y,o={}){graphic.push({type:'text',x,y,z:50,silent:true,rotation:o.rot||0,style:Object.assign({text,fill:'#000',font:`${o.w||'normal'} ${o.s||24}px ${o.f||sans}`,align:o.a||'center',verticalAlign:'middle',textAlign:o.a||'center',textVerticalAlign:'middle'},o.st||{})});}
function L(x1,y1,x2,y2,c,w){graphic.push({type:'line',z:49,silent:true,shape:{x1,y1,x2,y2},style:{stroke:c||'#111',lineWidth:w||1}});}
function EQ(text,x,y){graphic.push({type:'text',x,y,z:50,silent:true,style:{text,align:'center',verticalAlign:'middle',fill:'#000',font:'25.5px '+sans,rich:{i:{fontStyle:'italic',fontFamily:sans,fontSize:25.5,fill:'#000'},n:{fontFamily:sans,fontSize:25.5,fill:'#000'}}}});}
[['A',0,32],['B',554,32],['C',1106,32],['D',1588,32],['E',3,574],['F',562,574],['G',1106,572],['H',1588,578],['I',3,1184],['J',1082,1183],['K',3,2130]].forEach(a=>T(a[0],a[1],a[2],{s:58,w:'bold',f:ar,a:'left'}));
[['V1R',64],['V2R',661],['Olfr',1175],['MOE Olfr',1741]].forEach(a=>T(a[0],a[1],46,{s:28,a:'left'}));
T('Expression Range:',235,1062,{s:32.5,a:'left'});
[['nCells',322,520],['nCells',837,520],['nCells',1395,511],['nCells',1915,516.5],['rank',338,1024],['rank',836,1017],['rank',1376,1018.6],['rank',1856,1028]].forEach(a=>T(a[0],a[1],a[2],{s:24,st:{fill:'#111'}}));
T('Total Raw Count',24,291,{s:23,f:wide,rot:Math.PI/2,st:{fill:'#111'}});
[[78,779],[598,786],[1131,793.6],[1665,783]].forEach(a=>T('avg_exp',a[0],a[1],{s:23,f:wide,rot:Math.PI/2,st:{fill:'#111'}}));
const notes=[['Vmn1r184',238,127],['Vmn1r89',228,204],['Vmn1r196',236,233],['Vmn1r43',197,258],['Vmn1r37',254,275],['Vmn1r218',382,272],['Vmn1r55',466,316],['Vmn1r13',462,383],['Vmn1r81',408,437],
['Vmn2r53',961,129],['Vmn2r59',866,197],['Vmn2r105',711,216],['Vmn2r124',740,242],['Vmn2r7',861,234],['Vmn2r1',834,263],['Vmn2r115',971,249],['Vmn2r76',951,288],['Vmn2r30',700,291],['Vmn2r120',916,325],['Vmn2r114',909,381],
['Olfr124',1246,117],['Olfr907',1537,205],['Olfr1307',1503,238],['Olfr635',1488,270],['Olfr344',1419,291],['Olfr1336',1506,331],
['Olfr672',1775,131],['Olfr1176',1810.5,204],['Olfr959',1798,240],['Olfr1253',1806,263],['Olfr986',2064,275.5],['Olfr482',1971,334],['Olfr338',1976,361.6],
['Vmn1r196',253.5,636],['Vmn1r43',253.5,705],['Vmn1r67',260,824],['Vmn1r71',241,850],['Vmn1r37',260,871],['Vmn1r70',276.5,892],
['Vmn2r100',748.5,614],['Vmn2r48',761,634],['Vmn2r96',754,655],['Vmn2r51',761,676],['Vmn2r81',754.5,696],['Vmn2r49',764,721],
['Olfr132',1286.5,644],['Olfr513',1286.5,665],['Olfr376',1286.5,685],['Olfr166',1306,706.4],['Olfr187',1330,727],['Olfr27',1278,746],
['Olfr193',1812.5,610],['Olfr1253',1816,635],['Olfr781',1808,658.6],['Olfr1427',1875,679],['Olfr1140',1816,702],['Olfr181',1808,727]];
notes.forEach(n=>T(n[0],n[1],n[2]+1.5));
[[496,286,485,308],[740,251,740,262],[698,265,703,284],[164,636,193,636],[166,706,201,706],[168,841,210,826],[169,860,191,850],[172,869,207,871],[174,872,224,891],
[673,619,693,617],[675,629,710,632],[678,665,704.5,657],[681,680,711,678],[684,701,704.5,699],[684,703.6,713,715],
[1213.5,653.6,1244,645.7],[1214,665,1244,665.7],[1215.5,689,1244,686],[1215.5,692,1263,708],[1215.5,717,1286.5,724],[1215.5,722,1244,743.6],
[1738,612,1771,611],[1738,645,1766.6,640],[1737.5,677.5,1768.6,660],[1738,690,1827,681],[1738,693,1766.6,700.7],[1738,706,1768.6,725],
[944,608,944,620],[1461.6,604,1461.6,614]].forEach(s=>L(...s));
EQ('{i|y}{n|=11.7}{i|x}{n|, }{i|R²}{n|= 0.36}',341,165);
EQ('{i|y}{n|=4.41}{i|x}{n|, }{i|R²}{n|= 0.63}',770,142.5);
EQ('{i|y}{n|=1.32}{i|x}{n|, }{i|R²}{n|= 0.73}',1398,134.6);
EQ('{i|y}{n|= 2.01}{i|x}{n|, }{i|R²}{n|= 0.26}',1920,142);
// panel K
const orange='#FF8000', mint='#2EE08C';
T('V1R',190,2157,{s:42,w:'bold',f:ar,st:{fill:orange}});
T('V2R',722,2157,{s:42,w:'bold',f:ar,st:{fill:mint}});
T('Meis2',166,2220,{s:25,w:'bold',f:ar,st:{fill:orange}});
[['(-) Tfap2e (+)',751,2221],['Pou2f1',452,2277],['Rlf',545,2277],['Batf3',647,2277],['(-) Ikzf4 (+)',1051,2274],['Pou2f1,Cebpb,Zfp268,Zfp984',662,2370],['Atf5,Pbx2',933,2370],['Batf3',1053,2370],['Tcf4',1139,2370],['Trps1',1214,2370]].forEach(t=>T(t[0],t[1],t[2],{s:25,w:'bold',f:ar,st:{fill:mint}}));
L(172.5,2185,716,2185,'#222',2);L(172.5,2185,172.5,2200,'#222',1.5);L(716,2185,716,2199,'#222',1.5);
[[736,2233,736,2247],[449,2247.5,1039,2247.5],[449,2247,449,2262],[544.5,2247,544.5,2262],[642,2247,642,2262],[1039,2247,1039,2262],[1039,2290,1039,2304],[924,2304.5,1170,2304.5],[924,2304,924,2346],[1170,2304,1170,2334],[653,2332,1048,2332],[653,2332,653,2345],[1048,2332,1048,2345],[1135,2332,1209,2332],[1135,2332,1135,2345],[1209,2332,1209,2345]].forEach(s=>L(s[0],s[1],s[2],s[3],mint,s[1]===s[3]?2:1.3));

const chart=echarts.init(document.getElementById('c'),null,{renderer:'canvas',width:2120,height:2389});
chart.setOption({animation:false,backgroundColor:'#fff',tooltip:{show:false},grid,xAxis,yAxis,series,legend,visualMap,graphic:{elements:graphic}});
</script></body></html>
